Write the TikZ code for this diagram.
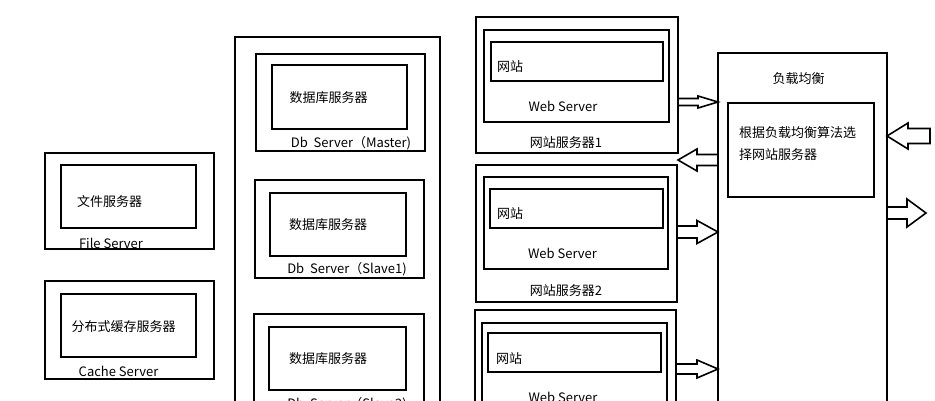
\documentclass[tikz,border=0pt]{standalone}
\usepackage{fontspec}
\newfontfamily\cjk{Noto Sans CJK SC}
\usetikzlibrary{calc}
\tikzset{
  box/.style={draw=black, line width=1.6pt, rectangle, inner sep=0pt, outer sep=0pt, anchor=north west},
  txt/.style={font=\cjk\fontsize{13}{22}\selectfont, inner sep=0pt, text=black},
  barr/.style={draw=black, line width=1.6pt, fill=white, line join=miter},
}
% #1 tail, #2 tip, #3 shaft half width, #4 head half width, #5 signed head offset from tip
\newcommand\blockarr[5]{%
  \draw[barr] ($(#1)+(0,#3)$) -- ($(#2)+(#5,#3)$) -- ($(#2)+(#5,#4)$) -- (#2)
    -- ($(#2)+(#5,-#4)$) -- ($(#2)+(#5,-#3)$) -- ($(#1)+(0,-#3)$) -- cycle;}
\begin{document}
\begin{tikzpicture}[x=1pt,y=-1pt]
\useasboundingbox (0,0) rectangle (935,400);
\clip (0,0) rectangle (935,400);
\fill[white] (0,0) rectangle (935,400);

% File server
\node[box, minimum width=169pt, minimum height=96pt] (fs) at (45,153) {};
\node[box, minimum width=135pt, minimum height=63pt] (fsin) at (61,165) {};
\node[txt] (fst) at (109.5,202) {文件服务器};
\node[txt] (fsl) at (111,243) {File Server};

% Cache server
\node[box, minimum width=169pt, minimum height=98pt] (cs) at (45,281) {};
\node[box, minimum width=135pt, minimum height=63pt] (csin) at (61,294) {};
\node[txt] (cst) at (123.5,327) {分布式缓存服务器};
\node[txt] (csl) at (118.5,371) {Cache Server};

% Database group
\node[box, minimum width=205pt, minimum height=400pt] (db) at (235,37) {};
\node[box, minimum width=169pt, minimum height=97pt] (dbm) at (256,54) {};
\node[box, minimum width=135pt, minimum height=64pt] (dbmin) at (272,65) {};
\node[txt] (dbmt) at (328.5,98) {数据库服务器};
\node[txt] (dbml) at (351,143) {Db\ \ Server（Master)};

\node[box, minimum width=169pt, minimum height=98pt] (dbs1) at (255,180) {};
\node[box, minimum width=136pt, minimum height=63pt] (dbs1in) at (270,193) {};
\node[txt] (dbs1t) at (328,225) {数据库服务器};
\node[txt] (dbs1l) at (347,269) {Db\ \ Server（Slave1)};

\node[box, minimum width=170pt, minimum height=98pt] (dbs2) at (254,314) {};
\node[box, minimum width=137pt, minimum height=63pt] (dbs2in) at (269,327) {};
\node[txt] (dbs2t) at (328,359) {数据库服务器};
\node[txt] (dbs2l) at (347,404) {Db\ \ Server（Slave2)};

% Web server 1
\node[box, minimum width=202pt, minimum height=136pt] (w1) at (476,17) {};
\node[box, minimum width=185pt, minimum height=92pt] (w1m) at (484,30) {};
\node[box, minimum width=172pt, minimum height=39pt] (w1in) at (491,42) {};
\node[txt, anchor=west] (w1t) at (497,67) {网站};
\node[txt] (w1s) at (563,106) {Web Server};
\node[txt] (w1l) at (566,143) {网站服务器1};

% Web server 2
\node[box, minimum width=201pt, minimum height=137pt] (w2) at (476,165) {};
\node[box, minimum width=184pt, minimum height=92pt] (w2m) at (484,177) {};
\node[box, minimum width=173pt, minimum height=39pt] (w2in) at (490,189) {};
\node[txt, anchor=west] (w2t) at (497,214) {网站};
\node[txt] (w2s) at (562.5,253) {Web Server};
\node[txt] (w2l) at (566,291) {网站服务器2};

% Web server 3
\node[box, minimum width=201pt, minimum height=137pt] (w3) at (475,310) {};
\node[box, minimum width=185pt, minimum height=92pt] (w3m) at (482,323) {};
\node[box, minimum width=173pt, minimum height=39pt] (w3in) at (488,333) {};
\node[txt, anchor=west] (w3t) at (496,359) {网站};
\node[txt] (w3s) at (563,397) {Web Server};

% Load balancer
\node[box, minimum width=169pt, minimum height=400pt] (lb) at (718,53) {};
\node[box, minimum width=146pt, minimum height=94pt] (lbin) at (728,103) {};
\node[txt] (lbt) at (798.5,79) {负载均衡};
\node[txt, anchor=north west, align=left] (lbx) at (739,126) {根据负载均衡算法选\\择网站服务器};

% Block arrows
\coordinate (inT) at (930,136);
\coordinate (outT) at (926,213);
\blockarr{w1.east |- 0,102}{lb.west |- 0,102}{3.5}{6}{-20}
\blockarr{lb.west |- 0,160}{w1.east |- 0,160}{5.5}{11}{19}
\blockarr{w2.east |- 0,232}{lb.west |- 0,232}{6}{11.5}{-21}
\blockarr{w3.east |- 0,369}{lb.west |- 0,369}{5}{9}{-21}
\blockarr{inT}{lb.east |- inT}{7.5}{13}{21}
\blockarr{lb.east |- outT}{outT}{6}{14}{-19}
\end{tikzpicture}
\end{document}
